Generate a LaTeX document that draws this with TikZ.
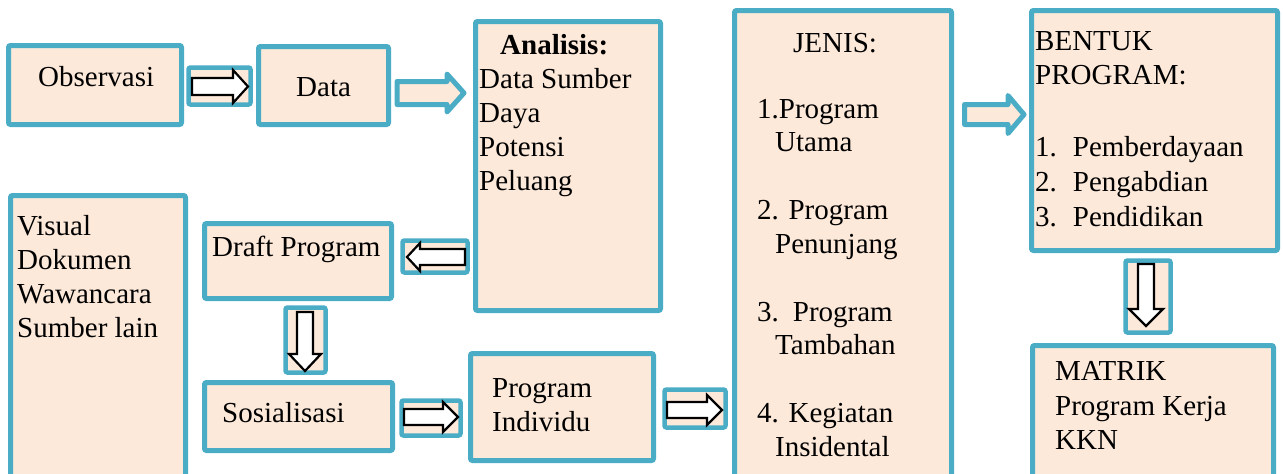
\documentclass[tikz,border=0pt]{standalone}
\usepackage{fontspec}
\setmainfont{Liberation Serif}
\definecolor{teal}{HTML}{4BACC6}
\definecolor{peach}{HTML}{FDE9D9}
\newcommand\mybox[5]{\node[boxst, minimum width={(#4-#2-5)*1pt}, minimum height={(#5-#3-5)*1pt}] (#1) at ({(#2+#4)/2},{(#3+#5)/2}) {};}
% right arrow: x0 x1 yc shafthalf headhalf headlen
\newcommand\arrR[6]{(#1,{#3-#4}) -- ({#2-#6},{#3-#4}) -- ({#2-#6},{#3-#5}) -- (#2,#3) -- ({#2-#6},{#3+#5}) -- ({#2-#6},{#3+#4}) -- (#1,{#3+#4}) -- cycle}
% left arrow: tail x0, tip x1 (x1<x0)
\newcommand\arrL[6]{(#1,{#3-#4}) -- ({#2+#6},{#3-#4}) -- ({#2+#6},{#3-#5}) -- (#2,#3) -- ({#2+#6},{#3+#5}) -- ({#2+#6},{#3+#4}) -- (#1,{#3+#4}) -- cycle}
% down arrow: tail y0, tip y1, xc
\newcommand\arrD[6]{({#3-#4},#1) -- ({#3-#4},{#2-#6}) -- ({#3-#5},{#2-#6}) -- (#3,#2) -- ({#3+#5},{#2-#6}) -- ({#3+#4},{#2-#6}) -- ({#3+#4},#1) -- cycle}
\begin{document}
\begin{tikzpicture}[x=1pt,y=-1pt,
  boxst/.style={draw=teal, fill=peach, line width=5pt, rounded corners=2pt, inner sep=0pt},
  abox/.style={draw=teal, fill=peach, line width=4.5pt, rounded corners=2pt},
  inarrow/.style={draw=black, fill=white, line width=2.2pt, line join=miter},
  plainarrow/.style={draw=teal, fill=peach, line width=5pt, line join=round},
  txt/.style={anchor=base west, inner sep=0pt, font=\fontsize{29}{34}\selectfont}]
\useasboundingbox (0,0) rectangle (1283,474);
% boxes
\mybox{obs}{6}{43}{184}{127}
\mybox{data}{256}{44}{391}{127}
\mybox{anal}{473}{19}{663}{313}
\mybox{vis}{8}{193}{188}{480}
\mybox{draft}{202}{221}{394}{301}
\mybox{sos}{202}{380}{395}{453}
\mybox{ind}{468}{351}{656}{463}
\mybox{jenis}{732}{8}{954}{480}
\mybox{bentuk}{1029}{8}{1280}{253}
\mybox{matrik}{1030}{343}{1276}{480}
% boxed arrows
\draw[abox] (188.5,67.5) rectangle (250.5,104.5);
\draw[inarrow] \arrR{192}{248}{86.5}{8.5}{16.5}{15};
\draw[abox] (402.5,240.5) rectangle (467.5,272.5);
\draw[inarrow] \arrL{465}{407}{257}{8}{14}{13};
\draw[abox] (285.5,307.5) rectangle (325.5,372.5);
\draw[inarrow] \arrD{312}{371}{305}{8}{16}{17};
\draw[abox] (401.5,400.5) rectangle (460.5,435.5);
\draw[inarrow] \arrR{404}{458}{417}{8}{15}{15};
\draw[abox] (664.5,389.5) rectangle (725.5,427.5);
\draw[inarrow] \arrR{667}{722}{410}{8}{15}{15};
\draw[abox] (1125.5,260.5) rectangle (1170.5,332.5);
\draw[inarrow] \arrD{264}{326}{1146}{8}{17}{17};
% plain arrows
\draw[plainarrow] \arrR{397}{464}{93}{11.5}{19}{17};
\draw[plainarrow] \arrR{964.5}{1024}{114.5}{10}{19}{16};
% texts
\node[txt] (tobs) at (38,86) {Observasi};
\node[txt] (tdata) at (296,96) {Data};
\node[txt] (ta0) at (500,54) {\bfseries Analisis:};
\node[txt] (ta1) at (479,88) {Data Sumber};
\node[txt] (ta2) at (479,122) {Daya};
\node[txt] (ta3) at (479,156) {Potensi};
\node[txt] (ta4) at (479,190) {Peluang};
\node[txt] (tv1) at (17,235) {Visual};
\node[txt] (tv2) at (17,269) {Dokumen};
\node[txt] (tv3) at (17,303) {Wawancara};
\node[txt] (tv4) at (17,337) {Sumber lain};
\node[txt] (tdraft) at (212,256) {Draft Program};
\node[txt] (tsos) at (222,422) {Sosialisasi};
\node[txt] (ti1) at (492,397) {Program};
\node[txt] (ti2) at (492,431) {Individu};
\node[txt] (tj0) at (793,52) {JENIS:};
\node[txt] (tj1) at (757,118) {1.Program};
\node[txt] (tj2) at (775,151) {Utama};
\node[txt] (tj3) at (757,219) {2. Program};
\node[txt] (tj4) at (775,253) {Penunjang};
\node[txt] (tj5) at (757,321) {3.\hspace{14pt}Program};
\node[txt] (tj6) at (775,354) {Tambahan};
\node[txt] (tj7) at (757,422) {4. Kegiatan};
\node[txt] (tj8) at (775,456) {Insidental};
\node[txt] (tb0) at (1035,50) {BENTUK};
\node[txt] (tb1) at (1035,84) {PROGRAM:};
\node[txt] (tb2) at (1035,156) {1.\hspace{16pt}Pemberdayaan};
\node[txt] (tb3) at (1035,191) {2.\hspace{16pt}Pengabdian};
\node[txt] (tb4) at (1035,226) {3.\hspace{16pt}Pendidikan};
\node[txt] (tm1) at (1055,380) {MATRIK};
\node[txt] (tm2) at (1055,415) {Program Kerja};
\node[txt] (tm3) at (1055,449) {KKN};
\end{tikzpicture}
\end{document}
